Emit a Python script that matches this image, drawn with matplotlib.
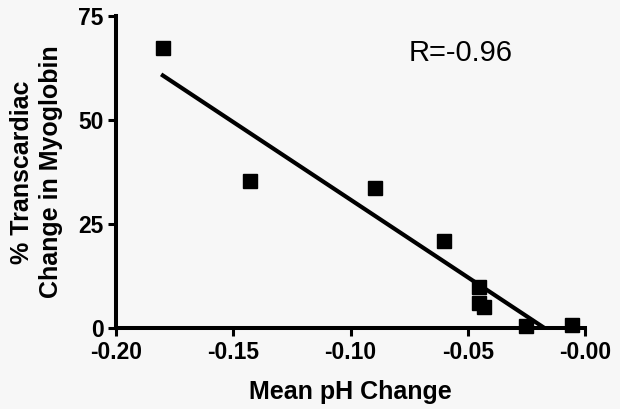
import numpy as np
import matplotlib
matplotlib.use('Agg')
import matplotlib.pyplot as plt

# mean pH change vs % transcardiac change in myoglobin
ph_change = [-0.180, -0.143, -0.0894, -0.0604, -0.0452, -0.0455, -0.0432, -0.0253, -0.0055]
myoglobin_change = [67.4, 35.4, 33.6, 20.8, 9.9, 6.1, 5.0, 0.5, 0.8]
x_ticks = [-0.20, -0.15, -0.10, -0.05, 0.00]
x_tick_labels = ['-0.20', '-0.15', '-0.10', '-0.05', '-0.00']
y_ticks = [0, 25, 50, 75]
r_label = 'R=-0.96'

plt.rcParams['font.family'] = ['Liberation Sans', 'DejaVu Sans']

bg = '#f7f7f7'
fig = plt.figure(figsize=(6.2, 4.09), dpi=100, facecolor=bg)
ax = fig.add_axes([0.187, 0.198, 0.757, 0.763], facecolor=bg)

ax.plot(ph_change, myoglobin_change, 's', color='black', markersize=10, clip_on=False, zorder=3)

# linear regression line, clipped by the y=0 axis
slope, intercept = np.polyfit(ph_change, myoglobin_change, 1)
xs = np.array([min(ph_change), max(ph_change)])
ax.plot(xs, slope * xs + intercept, color='black', linewidth=3)

ax.set_xlim(-0.20, 0.0)
ax.set_ylim(0, 75)
ax.set_xticks(x_ticks)
ax.set_xticklabels(x_tick_labels)
ax.set_yticks(y_ticks)

for side in ['top', 'right']:
    ax.spines[side].set_visible(False)
for side in ['left', 'bottom']:
    ax.spines[side].set_linewidth(2.9)

ax.tick_params(axis='both', direction='out', length=6, width=2.2, labelsize=16.5, pad=3)
for lbl in ax.get_xticklabels() + ax.get_yticklabels():
    lbl.set_fontweight('bold')

ax.set_xlabel('Mean pH Change', fontsize=18, fontweight='bold', labelpad=12)
ax.set_ylabel('% Transcardiac\nChange in Myoglobin', fontsize=18, fontweight='bold', linespacing=1.25)
ax.yaxis.set_label_coords(-0.113, 0.5)

ax.text(-0.053, 66, r_label, fontsize=21, ha='center', va='center')

fig.savefig('out.png', dpi=100, facecolor=bg)
